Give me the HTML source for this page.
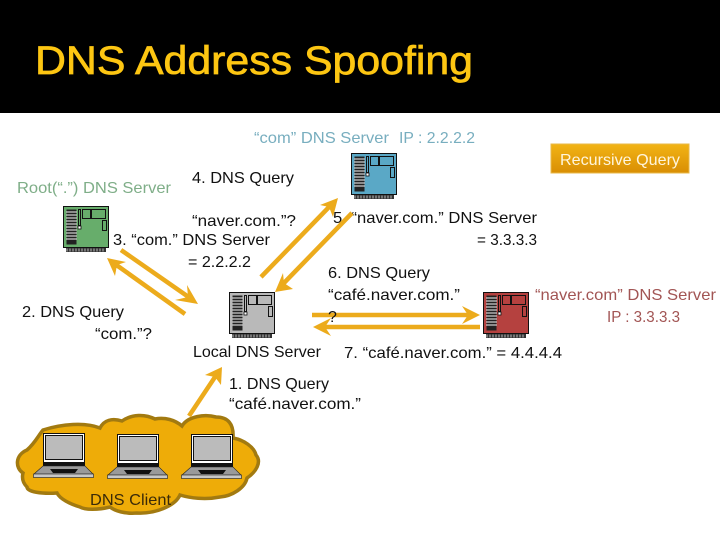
<!DOCTYPE html>
<html><head><meta charset="utf-8"><style>
html,body{margin:0;padding:0;background:#fff;width:720px;height:540px;overflow:hidden}
svg{display:block}
text{font-family:"Liberation Sans",sans-serif;font-size:16px;fill:#111}
</style></head><body>
<svg width="720" height="540" viewBox="0 0 720 540" xmlns="http://www.w3.org/2000/svg">
<defs>
<linearGradient id="g" x1="0" y1="0" x2="0" y2="1"><stop offset="0" stop-color="#f2b415"/><stop offset="1" stop-color="#d98e04"/></linearGradient>
<g id="srv">
<rect x="0.5" y="0.5" width="45" height="41" stroke="#111" stroke-width="1"/>
<rect x="3" y="42" width="40" height="4" fill="#333"/>
<path d="M4 42.5v3M7 42.5v3M10 42.5v3M13 42.5v3M16 42.5v3M19 42.5v3M22 42.5v3M25 42.5v3M28 42.5v3M31 42.5v3M34 42.5v3M37 42.5v3M40 42.5v3" stroke="#ddd" stroke-width=".8"/>
<rect x="3.5" y="3.5" width="10" height="35" fill="#222"/>
<path d="M3 6h11M3 9h11M3 12h11M3 15h11M3 18h11M3 21h11M3 24h11M3 27h11M3 30h11M3 33h11" stroke="#ccc" stroke-width="1.2"/>
<rect x="15.5" y="3.5" width="2" height="16" fill="none" stroke="#111"/>
<rect x="15" y="20" width="3" height="3" fill="#fff" stroke="#111" stroke-width=".8"/>
<rect x="19.5" y="3.5" width="8" height="9" fill="none" stroke="#111"/>
<rect x="28.5" y="3.5" width="14" height="9" fill="none" stroke="#111"/>
<rect x="39.5" y="14.5" width="4" height="10" fill="none" stroke="#111"/>
</g>
<g id="lap">
<rect x="10.5" y="0.5" width="41" height="29" fill="#fff" stroke="#111"/>
<rect x="12.5" y="2.5" width="37" height="24" fill="#bbb" stroke="#111"/>
<rect x="10" y="29" width="42" height="4" fill="#111"/>
<path d="M10 33h42l8 8H1z" fill="#9a9a9a" stroke="#222" stroke-width=".6"/>
<path d="M17 36h28l-3 4H20z" fill="#111"/>
<rect x="0.5" y="41" width="60" height="3.5" fill="#c8c8c8" stroke="#333" stroke-width=".7"/>
</g>
</defs>
<rect width="720" height="540" fill="#fff"/>
<rect width="720" height="113" fill="#000"/>
<text x="35" y="74" textLength="438" lengthAdjust="spacingAndGlyphs" style="font-size:40px;fill:#fdc612;stroke:#fdc612;stroke-width:.7">DNS Address Spoofing</text>

<!-- servers -->
<use href="#srv" x="63" y="206" fill="#67ad6b"/>
<use href="#srv" x="229" y="292" fill="#b9b9b9"/>
<use href="#srv" x="351" y="153" fill="#5aa8c6"/>
<use href="#srv" x="483" y="292" fill="#b5413f"/>

<!-- cloud -->
<path d="M27 450C35 443 38 436 43 430C62 424 85 422 100 428C104 420 112 418 122 421C132 414 145 414 155 419C165 417 175 420 182 426C188 416 205 414 216 417C228 417 234 424 233 438C244 440 254 447 256 455C262 462 256 472 247 478C245 488 232 496 220 497C205 500 190 498 180 495C175 506 155 514 137 513C125 514 115 511 110 507C98 510 85 510 80 507C70 504 60 499 57 493C42 494 27 492 27 487C22 482 22 477 23 473C15 468 15 455 27 450Z" fill="#eeac08" stroke="#a27a10" stroke-width="3.5"/>
<use href="#lap" x="33" y="433"/>
<use href="#lap" x="107" y="434"/>
<use href="#lap" x="181" y="434"/>

<!-- recursive box -->
<rect x="551" y="144" width="138" height="29" fill="url(#g)" stroke="#e8b84a" stroke-width="1"/>
<text x="560" y="165" textLength="120" lengthAdjust="spacingAndGlyphs" style="fill:#fff5dc">Recursive Query</text>

<!-- labels -->
<text x="254" y="143" textLength="135" lengthAdjust="spacingAndGlyphs" style="fill:#78aebf">“com” DNS Server</text>
<text x="399" y="143" textLength="76" lengthAdjust="spacingAndGlyphs" style="fill:#78aebf">IP : 2.2.2.2</text>
<text x="17" y="193" textLength="154" lengthAdjust="spacingAndGlyphs" style="fill:#7fae88">Root(“.”) DNS Server</text>
<text x="192" y="183" textLength="102" lengthAdjust="spacingAndGlyphs">4. DNS Query</text>
<text x="192" y="226" textLength="104" lengthAdjust="spacingAndGlyphs">“naver.com.”?</text>
<text x="113" y="245" textLength="157" lengthAdjust="spacingAndGlyphs">3. “com.” DNS Server</text>
<text x="188" y="267" textLength="63" lengthAdjust="spacingAndGlyphs">= 2.2.2.2</text>
<text x="22" y="317" textLength="102" lengthAdjust="spacingAndGlyphs">2. DNS Query</text>
<text x="95" y="339" textLength="57" lengthAdjust="spacingAndGlyphs">“com.”?</text>
<text x="193" y="357" textLength="128" lengthAdjust="spacingAndGlyphs">Local DNS Server</text>
<text x="333" y="223" textLength="204" lengthAdjust="spacingAndGlyphs">5. “naver.com.” DNS Server</text>
<text x="477" y="245" textLength="60" lengthAdjust="spacingAndGlyphs">= 3.3.3.3</text>
<text x="328" y="278" textLength="102" lengthAdjust="spacingAndGlyphs">6. DNS Query</text>
<text x="328" y="300" textLength="132" lengthAdjust="spacingAndGlyphs">“café.naver.com.”</text>
<text x="535" y="300" textLength="181" lengthAdjust="spacingAndGlyphs" style="fill:#a25554">“naver.com” DNS Server</text>
<text x="607" y="322" textLength="73" lengthAdjust="spacingAndGlyphs" style="fill:#a25554">IP : 3.3.3.3</text>
<text x="344" y="358" textLength="218" lengthAdjust="spacingAndGlyphs">7. “café.naver.com.” = 4.4.4.4</text>
<text x="229" y="389" textLength="100" lengthAdjust="spacingAndGlyphs">1. DNS Query</text>
<text x="229" y="409" textLength="132" lengthAdjust="spacingAndGlyphs">“café.naver.com.”</text>
<text x="90" y="505" textLength="81" lengthAdjust="spacingAndGlyphs" style="fill:#3a2a08">DNS Client</text>

<!-- arrows (above text) -->
<g fill="none" stroke="#ecab1c" stroke-width="4.5">
<path d="M121 250 190 298"/>
<path d="M185 314 115 264"/>
<path d="M261 277 331 205"/>
<path d="M352 213 282 285"/>
<path d="M312 315H470"/>
<path d="M480 327H323"/>
<path d="M189 416 217 374"/>
</g>
<g fill="#ecab1c">
<polygon points="198,304 187,285 188,297 175,300"/>
<polygon points="107,258 126,262 117,265 115,276"/>
<polygon points="338,198 320,205 329,207 333,217"/>
<polygon points="275,292 293,289 284,283 283,273"/>
<polygon points="480,315 462,306 468,315 462,324"/>
<polygon points="313,327 331,318 325,327 331,336"/>
<polygon points="222,367 205,375 215,377 221,385"/>
</g>
<text x="328" y="322">?</text>
</svg>
</body></html>
